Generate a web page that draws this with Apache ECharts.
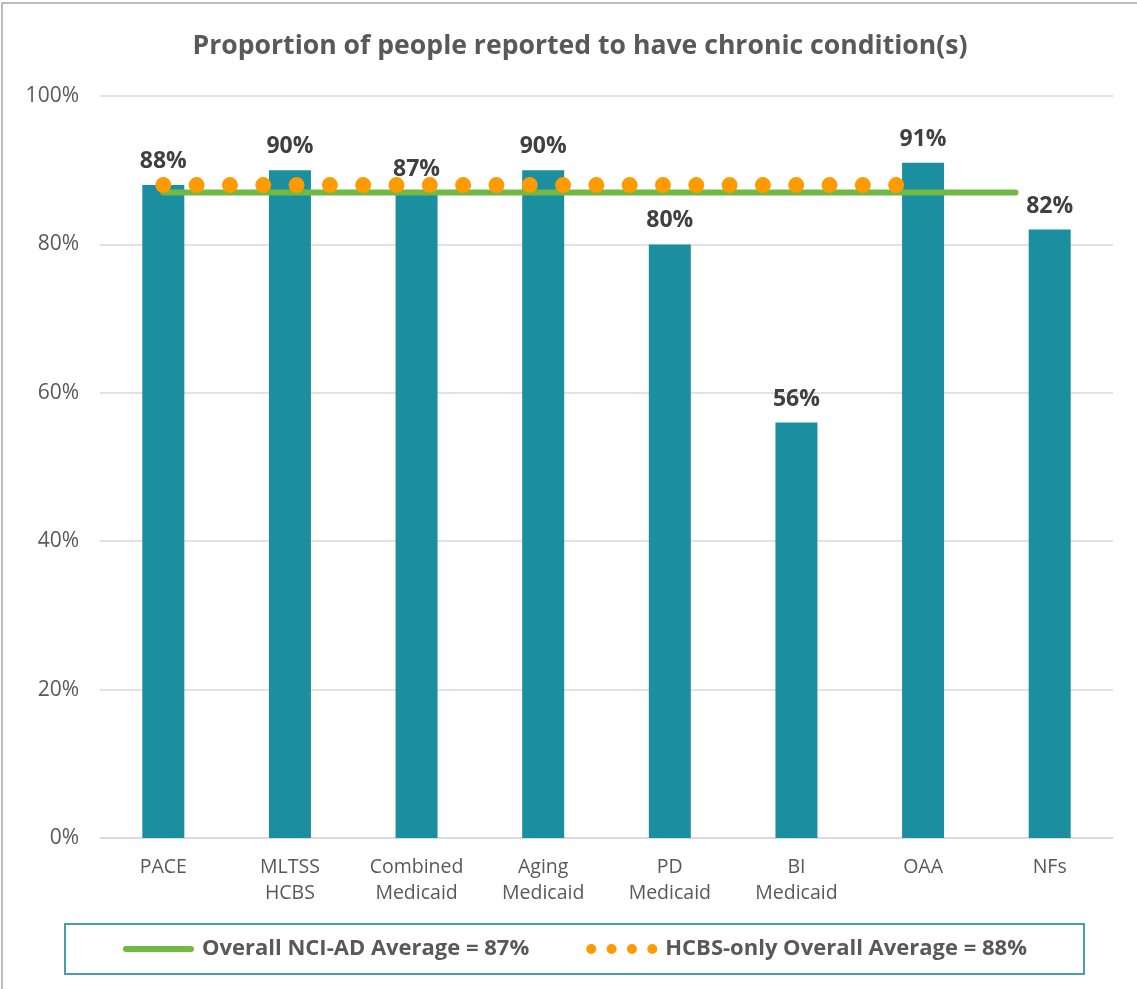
<!DOCTYPE html>
<html>
<head>
<meta charset="utf-8">
<script src="https://cdn.jsdelivr.net/npm/echarts@6/dist/echarts.min.js"></script>
<style>
html,body{margin:0;padding:0;background:#fff;}
#chart{width:1137px;height:989px;}
</style>
</head>
<body>
<div id="chart"></div>
<script>
var titleText = 'Proportion of people reported to have chronic condition(s)';
var categories = ['PACE', 'MLTSS HCBS', 'Combined Medicaid', 'Aging Medicaid', 'PD Medicaid', 'BI Medicaid', 'OAA', 'NFs'];
var values = [88, 90, 87, 90, 80, 56, 91, 82];
var yTicks = [0, 20, 40, 60, 80, 100];
var overallName = 'Overall NCI-AD Average = 87%';
var overallAvg = 87;
var overallSpan = [0, 6.73];
var hcbsName = 'HCBS-only Overall Average = 88%';
var hcbsAvg = 88;
var hcbsSpan = [0, 5.79];

var FONT = '"Open Sans", "Segoe UI", sans-serif';
var chart = echarts.init(document.getElementById('chart'), null, {renderer: 'canvas'});

var greenIcon = 'path://M0,0M71,10M3,2H68A3,3,0,0,1,68,8H3A3,3,0,0,1,3,2Z';
var orangeIcon = 'path://M0,0M71,10' +
  'M0,5A5,5,0,1,0,10,5A5,5,0,1,0,0,5Z' +
  'M20.33,5A5,5,0,1,0,30.33,5A5,5,0,1,0,20.33,5Z' +
  'M40.67,5A5,5,0,1,0,50.67,5A5,5,0,1,0,40.67,5Z' +
  'M61,5A5,5,0,1,0,71,5A5,5,0,1,0,61,5Z';

var option = {
  animation: false,
  backgroundColor: '#ffffff',
  title: {
    text: titleText,
    left: 575,
    top: 28,
    textAlign: 'center',
    textStyle: {fontFamily: FONT, fontSize: 26.6, fontWeight: 'bold', color: '#595959'}
  },
  grid: {left: 100, right: 24, top: 96, bottom: 151, containLabel: false},
  legend: {
    left: 65,
    top: 924,
    padding: [14, 57, 14, 58],
    borderColor: '#4A9EA8',
    borderWidth: 2,
    itemWidth: 71,
    itemHeight: 10,
    itemGap: 57,
    selectedMode: false,
    textStyle: {fontFamily: FONT, fontSize: 22, fontWeight: 'bold', color: '#595959', padding: [0, 0, 0, 3]},
    data: [
      {name: overallName, icon: greenIcon},
      {name: hcbsName, icon: orangeIcon}
    ]
  },
  xAxis: [
    {
      type: 'category',
      data: categories,
      gridIndex: 0,
      axisLine: {show: true, lineStyle: {color: '#D9D9D9', width: 1.5}},
      axisTick: {show: false},
      axisLabel: {
        margin: 16,
        fontFamily: FONT, fontSize: 19.5, color: '#595959', lineHeight: 26,
        formatter: function (v) { return v.split(' ').join('\n'); }
      }
    },
    {
      type: 'value',
      gridIndex: 0,
      min: -0.5,
      max: 7.5,
      show: false
    }
  ],
  yAxis: {
    type: 'value',
    min: yTicks[0],
    max: yTicks[yTicks.length - 1],
    interval: 20,
    axisLine: {show: false},
    axisTick: {show: false},
    splitLine: {lineStyle: {color: '#D9D9D9', width: 1.5}},
    axisLabel: {
      margin: 21,
      fontFamily: FONT, fontSize: 21, color: '#595959',
      formatter: '{value}%'
    }
  },
  series: [
    {
      type: 'bar',
      data: values,
      barWidth: 42,
      itemStyle: {color: '#1B8FA0'},
      label: {
        show: true,
        position: 'top',
        distance: 12,
        formatter: '{c}%',
        fontFamily: FONT, fontSize: 23, fontWeight: 'bold', color: '#404040'
      },
      silent: true
    },
    {
      name: overallName,
      type: 'line',
      xAxisIndex: 1,
      data: [[overallSpan[0], overallAvg], [overallSpan[1], overallAvg]],
      showSymbol: false,
      symbol: 'none',
      color: '#70B944',
      lineStyle: {color: '#70B944', width: 6, cap: 'round'},
      silent: true
    },
    {
      name: hcbsName,
      type: 'line',
      xAxisIndex: 1,
      data: [[hcbsSpan[0], hcbsAvg], [hcbsSpan[1], hcbsAvg]],
      showSymbol: false,
      symbol: 'none',
      color: '#FF9A00',
      lineStyle: {color: '#FF9A00', width: 16, cap: 'round', type: [0.01, 33.3]},
      silent: true
    }
  ],
  graphic: [
    {
      type: 'rect',
      silent: true,
      shape: {x: 2, y: 3, width: 1200, height: 1200},
      style: {fill: null, stroke: '#A6A6A6', lineWidth: 1.5}
    }
  ]
};
chart.setOption(option);
</script>
</body>
</html>
